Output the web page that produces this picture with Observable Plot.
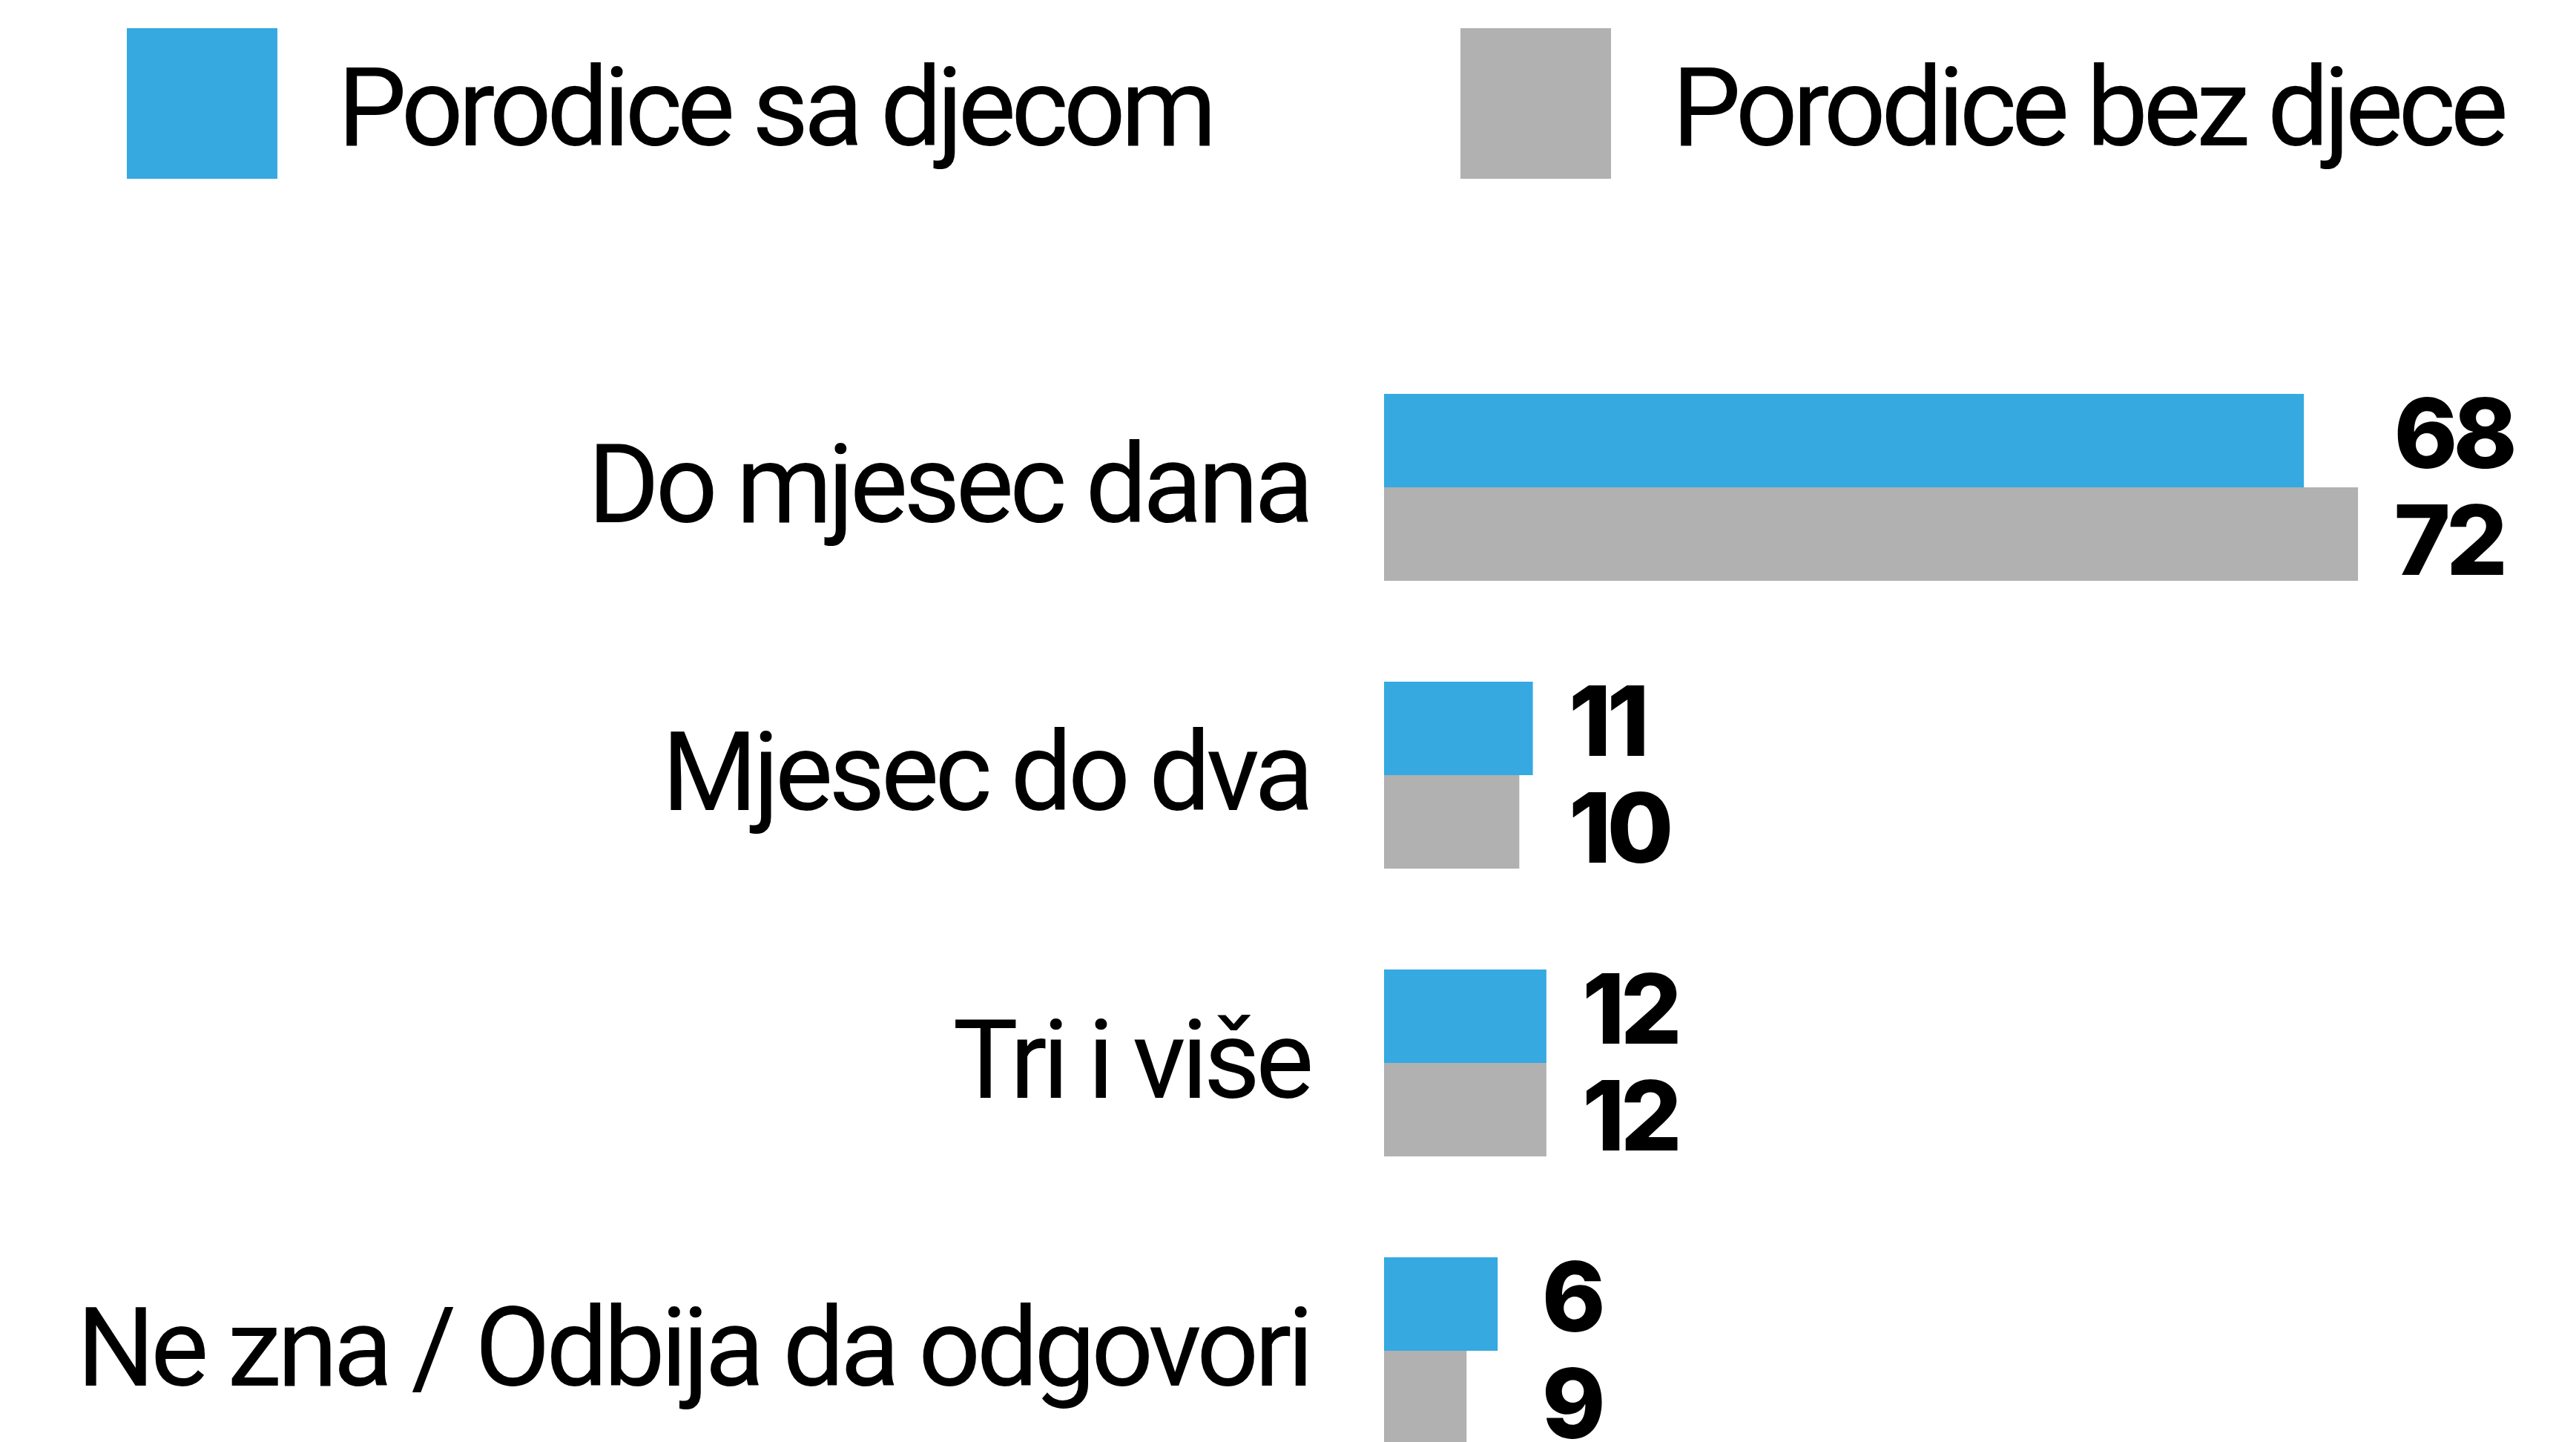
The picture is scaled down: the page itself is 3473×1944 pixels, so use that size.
<!DOCTYPE html>
<html>
<head>
<meta charset="utf-8">
<script src="https://cdn.jsdelivr.net/npm/d3@7"></script>
<script src="https://cdn.jsdelivr.net/npm/@observablehq/plot@0.6"></script>
<style>
  html, body { margin: 0; padding: 0; background: #fff; width: 3473px; height: 1944px; overflow: hidden; }
  #legend { position: relative; width: 3473px; height: 300px; font-family: Roboto, "Liberation Sans", sans-serif; }
  .sw { position: absolute; width: 203px; height: 203px; top: 38px; }
  .lt { position: absolute; font-size: 148px; line-height: 148px; height: 148px; top: 72px; letter-spacing: -7px; color: #000; white-space: nowrap; }
</style>
</head>
<body>
<div id="legend"></div>
<div id="chart"></div>
<script>
// Data
const categories = ["Do mjesec dana", "Mjesec do dva", "Tri i više", "Ne zna / Odbija da odgovori"];
const seriesNames = ["Porodice sa djecom", "Porodice bez djece"];
const colors = ["#36a9e1", "#b1b1b1"];
// printed values
const withKids = [68, 11, 12, 6];
const withoutKids = [72, 10, 12, 9];
// bar lengths as drawn in the reference (last group differs from printed values)
const barWithKids = [68, 11, 12, 8.4];
const barWithoutKids = [72, 10, 12, 6.1];

const rows = [];
categories.forEach((c, i) => {
  const groupMax = Math.max(withKids[i], withoutKids[i]);
  rows.push({cat: c, series: seriesNames[0], value: withKids[i], bar: barWithKids[i], labelX: groupMax});
  rows.push({cat: c, series: seriesNames[1], value: withoutKids[i], bar: barWithoutKids[i], labelX: groupMax});
});

// Legend
const legend = document.getElementById("legend");
const swLeft = [171, 1969], txLeft = [455, 2254];
seriesNames.forEach((s, i) => {
  const sw = document.createElement("div");
  sw.className = "sw"; sw.style.left = swLeft[i] + "px"; sw.style.background = colors[i];
  legend.appendChild(sw);
  const t = document.createElement("div");
  t.className = "lt"; t.style.left = txLeft[i] + "px"; t.textContent = s;
  legend.appendChild(t);
});

const plot = Plot.plot({
  width: 3473,
  height: 1649,
  marginLeft: 1866,
  marginRight: 148,
  marginTop: 228,
  marginBottom: 0,
  style: {fontFamily: "Roboto, 'Liberation Sans', sans-serif", fontSize: "148px", letterSpacing: "-6px", color: "#000", background: "#fff"},
  x: {domain: [0, 80], axis: null},
  fy: {domain: categories, paddingInner: 0.347, paddingOuter: 0, axis: "left", tickSize: 0, tickPadding: 101, label: null},
  y: {domain: seriesNames, axis: null, padding: 0},
  color: {domain: seriesNames, range: colors},
  marks: [
    Plot.barX(rows, {fy: "cat", y: "series", x: "bar", fill: "series"}),
    Plot.text(rows.filter(d => d.series === seriesNames[0]), {
      fy: "cat", y: "series", x: "labelX", text: d => String(d.value),
      textAnchor: "start", dx: 48, dy: -5,
      fontFamily: "Inter, 'Liberation Sans', sans-serif", fontWeight: 800, fontSize: 130, fill: "#000"
    }),
    Plot.text(rows.filter(d => d.series === seriesNames[1]), {
      fy: "cat", y: "series", x: "labelX", text: d => String(d.value),
      textAnchor: "start", dx: 48, dy: 13,
      fontFamily: "Inter, 'Liberation Sans', sans-serif", fontWeight: 800, fontSize: 130, fill: "#000"
    })
  ]
});
document.getElementById("chart").appendChild(plot);
</script>
</body>
</html>
